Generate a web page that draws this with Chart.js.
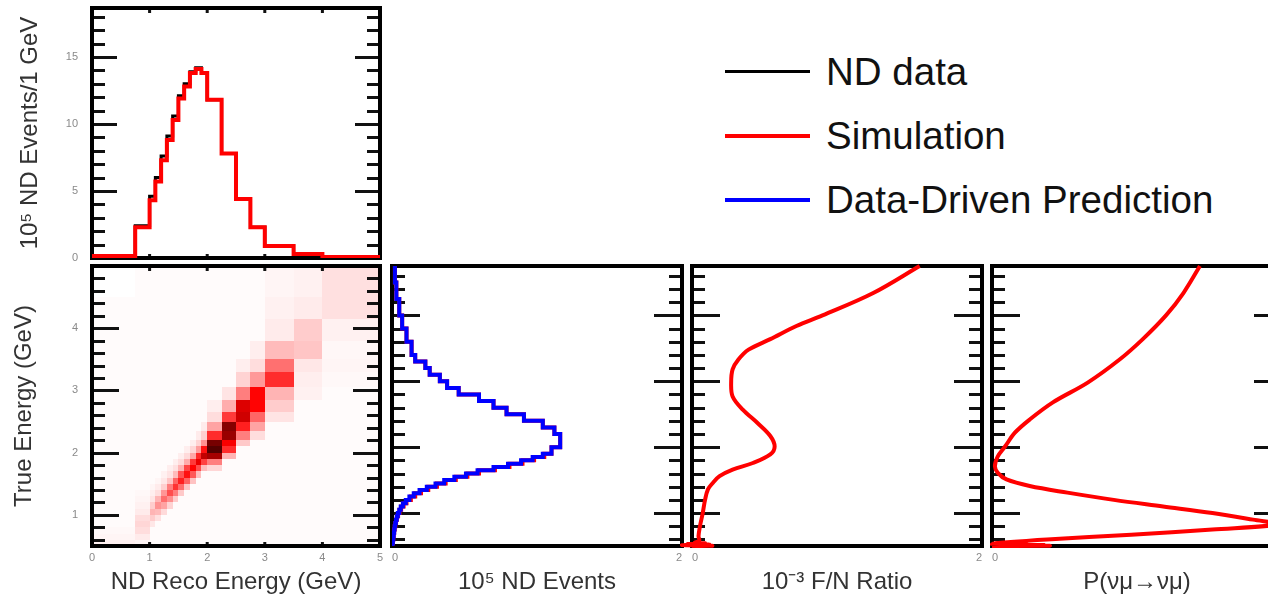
<!DOCTYPE html>
<html>
<head>
<meta charset="utf-8">
<script src="https://cdn.jsdelivr.net/npm/chart.js@4.4.1/dist/chart.umd.min.js"></script>
<style>
  body { margin: 0; width: 1268px; height: 598px; overflow: hidden; position: relative; background: #fff;
         font-family: "Liberation Sans", Arial, Helvetica, sans-serif; }
  canvas { position: absolute; }
  .key-line { position: absolute; left: 725px; width: 85px; }
  .key-text { position: absolute; left: 826px; font-size: 38.5px; line-height: 38px; color: #111; white-space: nowrap; }
</style>
</head>
<body>
<canvas id="top-hist" width="392" height="262" style="left:0;top:0"></canvas>
<canvas id="heat" width="392" height="336" style="left:0;top:262px"></canvas>
<canvas id="events" width="310" height="336" style="left:380px;top:262px"></canvas>
<canvas id="ratio" width="310" height="336" style="left:680px;top:262px"></canvas>
<canvas id="prob" width="310" height="336" style="left:980px;top:262px"></canvas>

<div class="key-line" style="top:70px;height:3px;background:#000"></div>
<div class="key-text" style="top:53px">ND data</div>
<div class="key-line" style="top:134px;height:4px;background:#ff0000"></div>
<div class="key-text" style="top:117px">Simulation</div>
<div class="key-line" style="top:198px;height:4px;background:#0000ff"></div>
<div class="key-text" style="top:181px">Data-Driven Prediction</div>

<script>
"use strict";

// ── Reco energy binning (top histogram + heatmap columns) ───────────────────
const RECO_EDGES = [0, 0.75, 1.0, 1.1, 1.2, 1.3, 1.4, 1.5, 1.6, 1.7, 1.8, 1.9, 2.0, 2.25, 2.5, 2.75, 3.0, 3.5, 4.0, 5.0];
const SIM_RECO   = [0.15, 2.3, 4.3, 5.7, 7.3, 8.8, 10.3, 11.9, 12.8, 13.8, 14.1, 13.8, 11.8, 7.8, 4.4, 2.3, 0.9, 0.3, 0.08];
const ND_DATA    = [0.15, 2.4, 4.6, 6.0, 7.6, 9.1, 10.6, 12.1, 13.0, 13.9, 14.2, 13.8, 11.8, 7.8, 4.4, 2.3, 0.9, 0.3, 0.08];

// ── True energy binning (heatmap rows) ──────────────────────────────────────
const TRUE_EDGES = [0.5, 0.6, 0.7, 0.8, 0.9, 1.0, 1.1, 1.2, 1.3, 1.4, 1.5, 1.6, 1.7, 1.8, 1.9, 2.0,
                    2.1, 2.2, 2.35, 2.5, 2.65, 2.85, 3.05, 3.3, 3.5, 3.8, 4.15, 4.5, 5.0];
const HEAT_BG = 0.012;
// [reco bin, true bin, relative content]
const HEAT_CELLS = [
  [0, 0, 0.04], [0, 1, 0.03], [0, 2, 0.02], [0, 27, 0],
  [1, 0, 0.03], [1, 1, 0.06], [1, 2, 0.1], [1, 3, 0.12], [1, 4, 0.1], [1, 5, 0.06], [1, 6, 0.04], [1, 7, 0.03], [1, 8, 0.02],
  [2, 3, 0.07], [2, 4, 0.15], [2, 5, 0.22], [2, 6, 0.15], [2, 7, 0.08], [2, 8, 0.05], [2, 9, 0.03],
  [3, 4, 0.09], [3, 5, 0.2], [3, 6, 0.32], [3, 7, 0.22], [3, 8, 0.1], [3, 9, 0.06], [3, 10, 0.03],
  [4, 5, 0.11], [4, 6, 0.27], [4, 7, 0.43], [4, 8, 0.31], [4, 9, 0.14], [4, 10, 0.07], [4, 11, 0.04],
  [5, 6, 0.13], [5, 7, 0.33], [5, 8, 0.52], [5, 9, 0.38], [5, 10, 0.17], [5, 11, 0.08], [5, 12, 0.05],
  [6, 7, 0.15], [6, 8, 0.38], [6, 9, 0.6], [6, 10, 0.45], [6, 11, 0.2], [6, 12, 0.09], [6, 13, 0.05],
  [7, 8, 0.16], [7, 9, 0.43], [7, 10, 0.66], [7, 11, 0.5], [7, 12, 0.22], [7, 13, 0.1], [7, 14, 0.05],
  [8, 9, 0.17], [8, 10, 0.46], [8, 11, 0.7], [8, 12, 0.54], [8, 13, 0.24], [8, 14, 0.11], [8, 15, 0.05],
  [9, 10, 0.18], [9, 11, 0.49], [9, 12, 0.74], [9, 13, 0.58], [9, 14, 0.26], [9, 15, 0.12], [9, 16, 0.05],
  [10, 11, 0.19], [10, 12, 0.52], [10, 13, 0.78], [10, 14, 0.63], [10, 15, 0.29], [10, 16, 0.13], [10, 17, 0.06],
  [11, 12, 0.2], [11, 13, 0.56], [11, 14, 0.84], [11, 15, 0.7], [11, 16, 0.32], [11, 17, 0.14], [11, 18, 0.06],
  [12, 12, 0.12], [12, 13, 0.38], [12, 14, 0.88], [12, 15, 1.0], [12, 16, 0.95], [12, 17, 0.62], [12, 18, 0.27], [12, 19, 0.1], [12, 20, 0.05],
  [13, 14, 0.22], [13, 15, 0.62], [13, 16, 0.76], [13, 17, 0.9], [13, 18, 0.93], [13, 19, 0.58], [13, 20, 0.24], [13, 21, 0.08],
  [14, 16, 0.16], [14, 17, 0.38], [14, 18, 0.66], [14, 19, 0.82], [14, 20, 0.8], [14, 21, 0.38], [14, 22, 0.13], [14, 23, 0.05],
  [15, 17, 0.1], [15, 18, 0.27], [15, 19, 0.45], [15, 20, 0.74], [15, 21, 0.74], [15, 22, 0.3], [15, 23, 0.1], [15, 24, 0.05],
  [16, 19, 0.08], [16, 20, 0.15], [16, 21, 0.22], [16, 22, 0.62], [16, 23, 0.42], [16, 24, 0.2], [16, 25, 0.06], [16, 26, 0.04], [16, 27, 0.03],
  [17, 21, 0.04], [17, 22, 0.05], [17, 23, 0.07], [17, 24, 0.17], [17, 25, 0.15], [17, 26, 0.06], [17, 27, 0.04],
  [18, 22, 0.02], [18, 23, 0.03], [18, 24, 0.025], [18, 25, 0.04], [18, 26, 0.09], [18, 27, 0.09],
];

// ── ND events vs true energy ────────────────────────────────────────────────
const EVT_EDGES = [0.5, 0.55, 0.6, 0.65, 0.7, 0.75, 0.8, 0.85, 0.9, 0.95, 1.0, 1.05, 1.1, 1.15, 1.2, 1.25,
                   1.3, 1.35, 1.4, 1.45, 1.5, 1.55, 1.6, 1.65, 1.7, 1.75, 1.8, 1.85, 1.9, 2.0, 2.2, 2.3,
                   2.4, 2.5, 2.6, 2.7, 2.8, 2.9, 3.0, 3.1, 3.2, 3.3, 3.4, 3.6, 3.8, 4.0, 4.25, 4.5, 4.75];
const PRED_EVT = [0.003, 0.006, 0.009, 0.012, 0.015, 0.018, 0.022, 0.027, 0.033, 0.04, 0.05, 0.06, 0.075, 0.095, 0.12, 0.15,
                  0.19, 0.24, 0.30, 0.36, 0.43, 0.51, 0.59, 0.70, 0.80, 0.89, 0.97, 1.04, 1.10, 1.16, 1.12, 1.04,
                  0.91, 0.79, 0.70, 0.60, 0.46, 0.38, 0.33, 0.26, 0.23, 0.16, 0.135, 0.10, 0.07, 0.05, 0.03, 0.02];
const SIM_EVT  = [0.003, 0.006, 0.009, 0.012, 0.015, 0.019, 0.023, 0.028, 0.034, 0.042, 0.052, 0.063, 0.08, 0.1, 0.13, 0.16,
                  0.2, 0.25, 0.31, 0.37, 0.44, 0.52, 0.60, 0.71, 0.81, 0.90, 0.98, 1.05, 1.10, 1.16, 1.12, 1.04,
                  0.91, 0.79, 0.70, 0.60, 0.46, 0.38, 0.33, 0.26, 0.23, 0.16, 0.135, 0.10, 0.07, 0.05, 0.03, 0.02];

// ── Far/Near ratio vs true energy ───────────────────────────────────────────
const FN_ENERGY = [0.50, 0.505, 0.512, 0.52, 0.53, 0.54, 0.55, 0.58, 0.65, 0.80, 1.00, 1.20, 1.36, 1.46, 1.56, 1.66,
                   1.76, 1.89, 2.01, 2.17, 2.37, 2.57, 2.77, 2.98, 3.18, 3.33, 3.48, 3.64, 3.84, 4.00, 4.34, 4.75];
const FN_RATIO  = [0.00, 0.14, -0.07, 0.12, -0.03, 0.09, 0.02, 0.05, 0.045, 0.055, 0.074, 0.09, 0.11, 0.145, 0.19, 0.28,
                   0.42, 0.54, 0.57, 0.54, 0.45, 0.35, 0.28, 0.27, 0.28, 0.32, 0.39, 0.54, 0.72, 0.90, 1.25, 1.57];

// ── Survival probability vs true energy ─────────────────────────────────────
const OSC_ENERGY = [0.50, 0.505, 0.51, 0.515, 0.52, 0.527, 0.535, 0.55, 0.60, 0.67, 0.75, 0.83, 0.90, 1.00, 1.10, 1.20,
                    1.31, 1.41, 1.51, 1.61, 1.71, 1.86, 2.01, 2.22, 2.42, 2.68, 2.98, 3.33, 3.64, 4.00, 4.34, 4.75];
const OSC_PROB   = [0.00, 0.20, 0.02, 0.18, 0.01, 0.12, 0.0, 0.03, 0.19, 0.48, 0.76, 0.99, 0.90, 0.76, 0.59, 0.42,
                    0.26, 0.13, 0.05, 0.02, 0.01, 0.02, 0.045, 0.079, 0.13, 0.21, 0.33, 0.44, 0.52, 0.60, 0.66, 0.717];

// ── Tick labels ─────────────────────────────────────────────────────────────
const HIST_Y_TICKS = [0, 5, 10, 15];
const RECO_TICKS = [0, 1, 2, 3, 4, 5];
const TRUE_TICKS = [1, 2, 3, 4];
const EVT_TICKS = [0, 2];
const FN_TICKS = [0, 2];
const OSC_TICKS = [0, 1];

// ── Style ───────────────────────────────────────────────────────────────────
Chart.defaults.font.family = '"Liberation Sans", Arial, Helvetica, sans-serif';
const TICK_FONT = { size: 11 };
const TICK_COLOR = "#8a8a8a";
const TITLE_FONT = { size: 24 };
const TITLE_COLOR = "#333";
const NO_GRID = { display: false, drawTicks: false, tickLength: 0 };

function heatColor(t) {
  if (t <= 0) return "#ffffff";
  if (t <= 0.75) {
    const g = Math.round(255 * (1 - t / 0.75));
    return `rgb(255,${g},${g})`;
  }
  const r = Math.round(255 - ((t - 0.75) / 0.25) * 170);
  return `rgb(${r},0,0)`;
}

function fixedTicks(values) {
  return scale => { scale.ticks = values.map(v => ({ value: v })); };
}
// left axis: fixed width, and no extra room above/below for the labels
function leftAxisFit(scale) {
  scale.width = 92;
  scale.paddingTop = 0;
  scale.paddingBottom = 0;
}

// horizontal step histogram: a point per low edge, then the closing edge
function stepRow(edges, values) {
  const pts = values.map((v, i) => ({ x: edges[i], y: v }));
  pts.push({ x: edges[edges.length - 1], y: values[values.length - 1] });
  return pts;
}
// vertical step histogram: value on x, energy on y
function stepCol(edges, values) {
  const pts = values.map((v, i) => ({ x: v, y: edges[i] }));
  pts.push({ x: values[values.length - 1], y: edges[edges.length - 1] });
  return pts;
}
function curve(energy, values) {
  return energy.map((e, i) => ({ x: values[i], y: e }));
}

// ── ROOT-style frame: heat cells, inward ticks, thick box ───────────────────
const rootFrame = {
  id: "rootFrame",
  beforeDatasetsDraw(chart, args, opts) {
    const { ctx, chartArea: a, scales: { x, y } } = chart;
    ctx.save();

    if (opts.heat) {
      const grid = RECO_EDGES.slice(1).map(() => TRUE_EDGES.slice(1).map(() => HEAT_BG));
      HEAT_CELLS.forEach(([i, j, t]) => { grid[i][j] = t; });
      grid.forEach((col, i) => {
        const l = Math.round(x.getPixelForValue(RECO_EDGES[i]));
        const r = Math.round(x.getPixelForValue(RECO_EDGES[i + 1]));
        col.forEach((t, j) => {
          const b = Math.round(y.getPixelForValue(TRUE_EDGES[j]));
          const tp = Math.round(y.getPixelForValue(TRUE_EDGES[j + 1]));
          ctx.fillStyle = heatColor(t);
          ctx.fillRect(l, tp, r - l, b - tp);
        });
      });
    }

    ctx.strokeStyle = "#111";
    ctx.lineWidth = 3;
    ctx.beginPath();
    const step = opts.yMinor;
    for (let k = Math.ceil(y.min / step - 1e-6); k * step < y.max - 1e-6; k++) {
      const v = k * step;
      if (v <= y.min + 1e-6) continue;
      const major = opts.yMajor.some(m => Math.abs(m - v) < 1e-6);
      const len = major ? opts.majorLen : opts.minorLen;
      const py = Math.round(y.getPixelForValue(v)) + 0.5;
      ctx.moveTo(a.left, py); ctx.lineTo(a.left + len, py);
      ctx.moveTo(a.right, py); ctx.lineTo(a.right - len, py);
    }
    (opts.xTop || []).forEach(v => {
      const px = x.getPixelForValue(v);
      ctx.moveTo(px, a.top); ctx.lineTo(px, a.top + 5);
      ctx.moveTo(px, a.bottom); ctx.lineTo(px, a.bottom - 4);
    });
    ctx.stroke();

    ctx.strokeStyle = "#000";
    ctx.lineWidth = 4;
    ctx.strokeRect(a.left, a.top, a.right - a.left, a.bottom - a.top);
    ctx.restore();
  },
};

const BASE = {
  responsive: false,
  animation: false,
  events: [],
};
const PLUGINS = { legend: { display: false }, tooltip: { enabled: false } };

// ── Top: reco energy spectrum ───────────────────────────────────────────────
new Chart(document.getElementById("top-hist"), {
  type: "line",
  data: {
    datasets: [
      { label: "Simulation", data: stepRow(RECO_EDGES, SIM_RECO), order: 0,
        borderColor: "#ff0000", borderWidth: 4, stepped: true, pointRadius: 0 },
      { label: "ND data", data: stepRow(RECO_EDGES, ND_DATA), order: 1,
        borderColor: "#000", borderWidth: 3, stepped: true, pointRadius: 0 },
    ],
  },
  options: {
    ...BASE,
    layout: { padding: { top: 8, right: 12, bottom: 4, left: 0 } },
    scales: {
      x: { type: "linear", min: 0, max: 5, display: false },
      y: {
        type: "linear", min: 0, max: 18.65,
        afterFit: leftAxisFit,
        afterBuildTicks: fixedTicks(HIST_Y_TICKS),
        grid: NO_GRID, border: { display: false },
        ticks: { font: TICK_FONT, color: TICK_COLOR, padding: 14 },
        title: { display: true, text: "10⁵ ND Events/1 GeV", font: TITLE_FONT, color: TITLE_COLOR, padding: { top: 16, bottom: 0 } },
      },
    },
    plugins: {
      ...PLUGINS,
      rootFrame: { yMajor: HIST_Y_TICKS, yMinor: 1, majorLen: 25, minorLen: 13, xTop: [1, 2, 3, 4] },
    },
  },
  plugins: [rootFrame],
});

// ── Bottom left: true vs reco energy ────────────────────────────────────────
new Chart(document.getElementById("heat"), {
  type: "line",
  data: { datasets: [] },
  options: {
    ...BASE,
    layout: { padding: { top: 4, right: 12, bottom: 0, left: 0 } },
    scales: {
      x: {
        type: "linear", min: 0, max: 5,
        afterFit: s => { s.height = 52; },
        afterBuildTicks: fixedTicks(RECO_TICKS),
        grid: NO_GRID, border: { display: false },
        ticks: { font: TICK_FONT, color: TICK_COLOR, padding: 5 },
        title: { display: true, text: "ND Reco Energy (GeV)", font: TITLE_FONT, color: TITLE_COLOR, padding: { top: 0, bottom: 1 } },
      },
      y: {
        type: "linear", min: 0.5, max: 5,
        afterFit: leftAxisFit,
        afterBuildTicks: fixedTicks(TRUE_TICKS),
        grid: NO_GRID, border: { display: false },
        ticks: { font: TICK_FONT, color: TICK_COLOR, padding: 14 },
        title: { display: true, text: "True Energy (GeV)", font: TITLE_FONT, color: TITLE_COLOR, padding: { top: 10, bottom: 0 } },
      },
    },
    plugins: {
      ...PLUGINS,
      rootFrame: { heat: true, yMajor: TRUE_TICKS, yMinor: 0.2, majorLen: 27, minorLen: 13, xTop: [1, 2, 3, 4] },
    },
  },
  plugins: [rootFrame],
});

// ── Bottom panels sharing the true energy axis ──────────────────────────────
function sidePanel(id, datasets, xMax, xTicks, title) {
  return new Chart(document.getElementById(id), {
    type: "line",
    data: { datasets },
    options: {
      ...BASE,
      layout: { padding: { top: 4, right: 8, bottom: 0, left: 12 } },
      scales: {
        x: {
          type: "linear", min: 0, max: xMax,
          afterFit: s => { s.height = 52; },
          afterBuildTicks: fixedTicks(xTicks),
          grid: NO_GRID, border: { display: false },
          ticks: { font: TICK_FONT, color: TICK_COLOR, padding: 5, align: "inner" },
          title: { display: true, text: title, font: TITLE_FONT, color: TITLE_COLOR, padding: { top: 0, bottom: 1 } },
        },
        y: { type: "linear", min: 0.5, max: 4.75, display: false },
      },
      plugins: {
        ...PLUGINS,
        rootFrame: { yMajor: TRUE_TICKS, yMinor: 0.2, majorLen: 28, minorLen: 13 },
      },
    },
    plugins: [rootFrame],
  });
}

sidePanel("events", [
  { label: "Data-Driven Prediction", data: stepCol(EVT_EDGES, PRED_EVT), order: 0,
    borderColor: "#0000ff", borderWidth: 4, stepped: "after", pointRadius: 0 },
  { label: "Simulation", data: stepCol(EVT_EDGES, SIM_EVT), order: 1,
    borderColor: "#ff0000", borderWidth: 4, stepped: "after", pointRadius: 0 },
], 2, EVT_TICKS, "10⁵ ND Events");

sidePanel("ratio", [
  { label: "F/N Ratio", data: curve(FN_ENERGY, FN_RATIO), clip: { left: 14, right: 4, top: 4, bottom: 4 },
    borderColor: "#ff0000", borderWidth: 4, tension: 0.35, pointRadius: 0 },
], 2, FN_TICKS, "10⁻³ F/N Ratio");

sidePanel("prob", [
  { label: "P(νμ→νμ)", data: curve(OSC_ENERGY, OSC_PROB), clip: { left: 4, right: 4, top: 4, bottom: 4 },
    borderColor: "#ff0000", borderWidth: 4, tension: 0.35, pointRadius: 0 },
], 1, OSC_TICKS, "P(νμ→νμ)");
</script>
</body>
</html>
